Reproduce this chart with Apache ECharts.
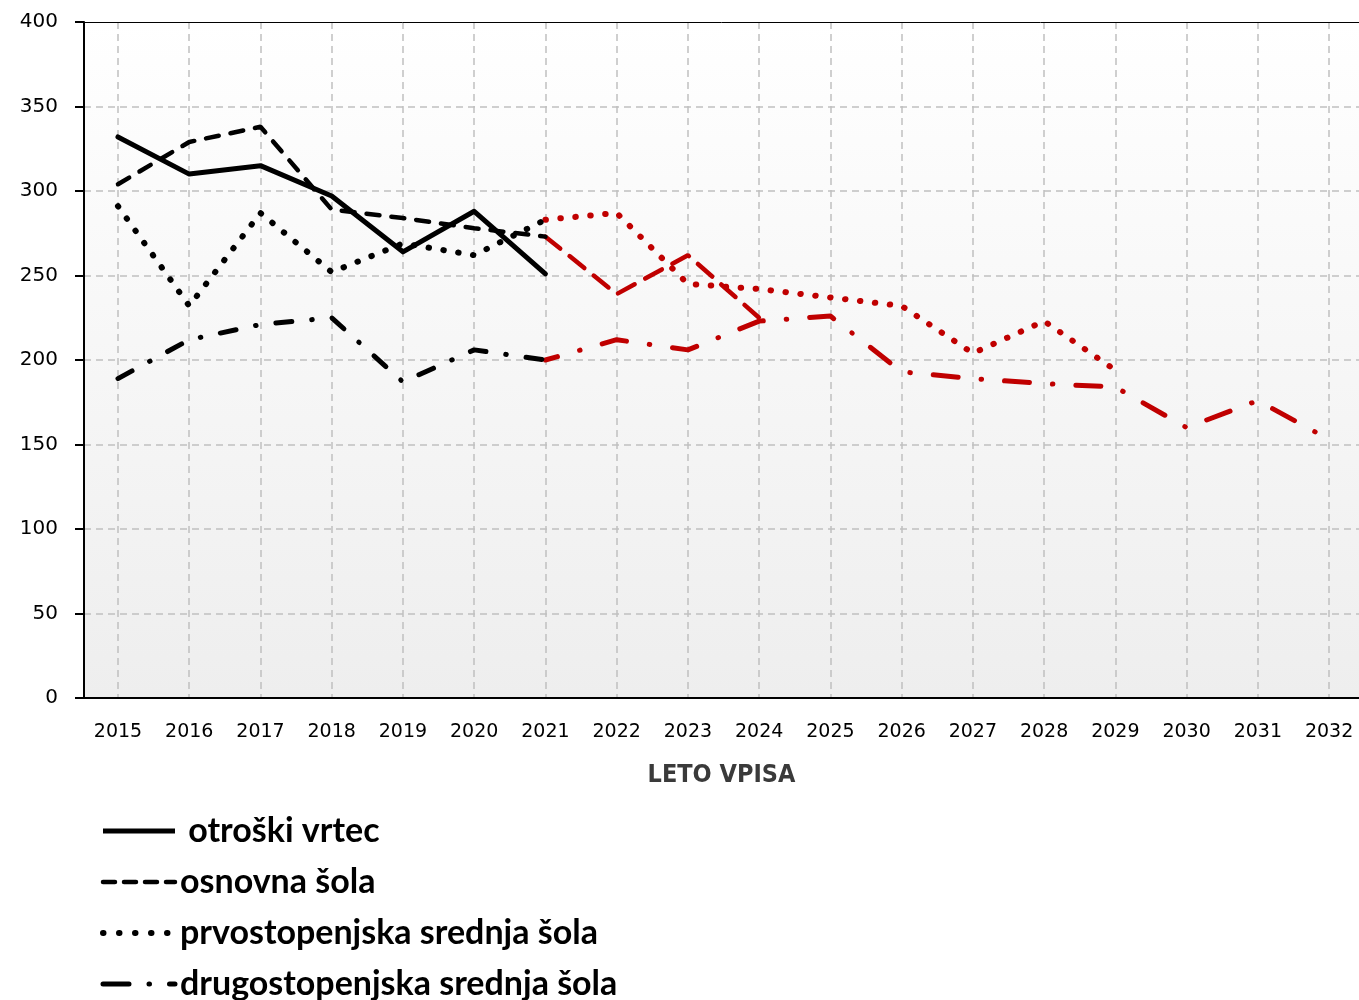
<!DOCTYPE html>
<html>
<head>
<meta charset="utf-8">
<title>Vpis po letih</title>
<script src="https://cdn.jsdelivr.net/npm/echarts@6/dist/echarts.min.js"></script>
<style>
  html, body { margin: 0; padding: 0; background: #fff; }
  #chart { width: 1359px; height: 1000px; }
</style>
</head>
<body>
<div id="chart"></div>
<script>
// leta vpisa (x os)
const years = [2015, 2016, 2017, 2018, 2019, 2020, 2021, 2022, 2023,
  2024, 2025, 2026, 2027, 2028, 2029, 2030, 2031, 2032];
const lastActual = 2021; // do tega leta črno, naprej rdeče (napoved)

// vrednosti po letih, od 2015 naprej
const vrtec = [332, 310, 315, 297, 264, 288, 251];
const osnovna = [304, 329, 338, 289, 284, 278, 273, 239, 262, 225];
const prvostopenjska = [291, 232, 287, 252, 269, 262, 283, 287, 245, 242,
  237, 232, 204, 223, 194];
const drugostopenjska = [189, 212, 221, 225, 187, 206, 200, 212, 206, 223,
  226, 193, 189, 186, 184, 160, 176, 153];

const seriesNames = ['otroški vrtec', 'osnovna šola',
  'prvostopenjska srednja šola', 'drugostopenjska srednja šola'];
const yTicks = [0, 50, 100, 150, 200, 250, 300, 350, 400];

const BLACK = '#000000';
const RED = '#c00000';

// črtni slogi: [črni del, rdeči del, legenda]
const lineStyles = [
  [{ width: 5, type: 'solid', cap: 'round', join: 'round' },
   { width: 5, type: 'solid', cap: 'round', join: 'round' },
   { width: 5, type: 'solid', cap: 'butt' }],
  [{ width: 4.5, type: [13, 12], cap: 'round' },
   { width: 4.5, type: [19, 12], cap: 'round' },
   { width: 4.5, type: [12, 9], cap: 'round' }],
  [{ width: 6, type: [0.5, 14.5], cap: 'round' },
   { width: 6, type: [0.5, 14.5], cap: 'round' },
   { width: 6, type: [0.5, 15.5], cap: 'round' }],
  [{ width: 5, type: [16, 20, 0.5, 20], cap: 'round' },
   { width: 5, type: [25, 23, 0.5, 23], dashOffset: 12.5, cap: 'round' },
   { width: 5, type: [26, 20, 0.5, 20], cap: 'round' }]
];

function pairs(values, keep) {
  const out = [];
  values.forEach(function (v, i) {
    if (keep(years[i])) out.push([years[i], v]);
  });
  return out;
}

const allValues = [vrtec, osnovna, prvostopenjska, drugostopenjska];
const series = [];
allValues.forEach(function (vals, k) {
  series.push({
    name: seriesNames[k],
    type: 'line',
    symbol: 'none',
    color: BLACK,
    lineStyle: Object.assign({ color: BLACK }, lineStyles[k][0]),
    data: pairs(vals, function (y) { return y <= lastActual; }),
    z: 3
  });
  if (vals.length > years.indexOf(lastActual) + 1) {
    series.push({
      name: seriesNames[k] + ' (napoved)',
      type: 'line',
      symbol: 'none',
      color: RED,
      lineStyle: Object.assign({ color: RED }, lineStyles[k][1]),
      data: pairs(vals, function (y) { return y >= lastActual; }),
      z: 2
    });
  }
});

const xMin = 2014.523;
const xMax = 2032.42;

const chart = echarts.init(document.getElementById('chart'), null, { renderer: 'canvas' });

const option = {
  animation: false,
  backgroundColor: '#ffffff',
  grid: {
    left: 84,
    top: 22,
    right: 0,
    bottom: 302,
    show: true,
    borderWidth: 0,
    backgroundColor: new echarts.graphic.LinearGradient(0, 0, 0, 1, [
      { offset: 0, color: '#ffffff' },
      { offset: 1, color: '#eeeeee' }
    ])
  },
  legend: {
    data: seriesNames.map(function (n, k) {
      return { name: n, lineStyle: Object.assign({ color: BLACK }, lineStyles[k][2]) };
    }),
    orient: 'vertical',
    left: 100,
    top: 814,
    height: 220, // da se legenda ne prelomi v drugi stolpec
    padding: 0,
    itemWidth: 72,
    itemHeight: 14,
    itemGap: 17,
    itemStyle: { opacity: 0 },
    formatter: function (name) {
      return name === seriesNames[0] ? ' ' + name : name;
    },
    textStyle: {
      fontFamily: 'Lato',
      fontWeight: 'bold',
      fontSize: 34,
      color: '#000'
    }
  },
  xAxis: [{
    type: 'value',
    min: xMin,
    max: xMax,
    splitNumber: 18,
    name: 'LETO VPISA',
    nameLocation: 'middle',
    nameGap: 65,
    nameTextStyle: {
      fontFamily: 'DejaVu Sans Condensed, DejaVu Sans',
      fontWeight: 'bold',
      fontSize: 25,
      color: '#3a3a3a'
    },
    axisLine: { show: true, lineStyle: { color: '#000', width: 2 } },
    axisTick: { show: false },
    axisLabel: {
      showMinLabel: false,
      showMaxLabel: false,
      margin: 25,
      fontFamily: 'DejaVu Sans',
      fontSize: 19,
      color: '#000',
      formatter: function (v) {
        return years.indexOf(v) >= 0 ? String(v) : '';
      }
    },
    splitLine: {
      show: true,
      showMinLine: false,
      showMaxLine: false,
      lineStyle: { color: '#c0c0c0', width: 1.5, type: [7, 5] }
    }
  }, {
    // zgornja črta okvirja
    type: 'value',
    position: 'top',
    min: xMin,
    max: xMax,
    axisLine: { show: true, lineStyle: { color: '#000', width: 1 } },
    axisTick: { show: false },
    axisLabel: { show: false },
    splitLine: { show: false }
  }],
  yAxis: {
    type: 'value',
    min: yTicks[0],
    max: yTicks[yTicks.length - 1],
    interval: 50,
    axisLine: { show: true, lineStyle: { color: '#000', width: 2 } },
    axisTick: { show: true, length: 9, lineStyle: { color: '#000', width: 2 } },
    axisLabel: {
      margin: 26,
      fontFamily: 'DejaVu Sans',
      fontSize: 20,
      color: '#000'
    },
    splitLine: {
      show: true,
      showMaxLine: false,
      lineStyle: { color: '#c0c0c0', width: 1.5, type: [7, 5] }
    }
  },
  series: series
};

chart.setOption(option);
</script>
</body>
</html>
